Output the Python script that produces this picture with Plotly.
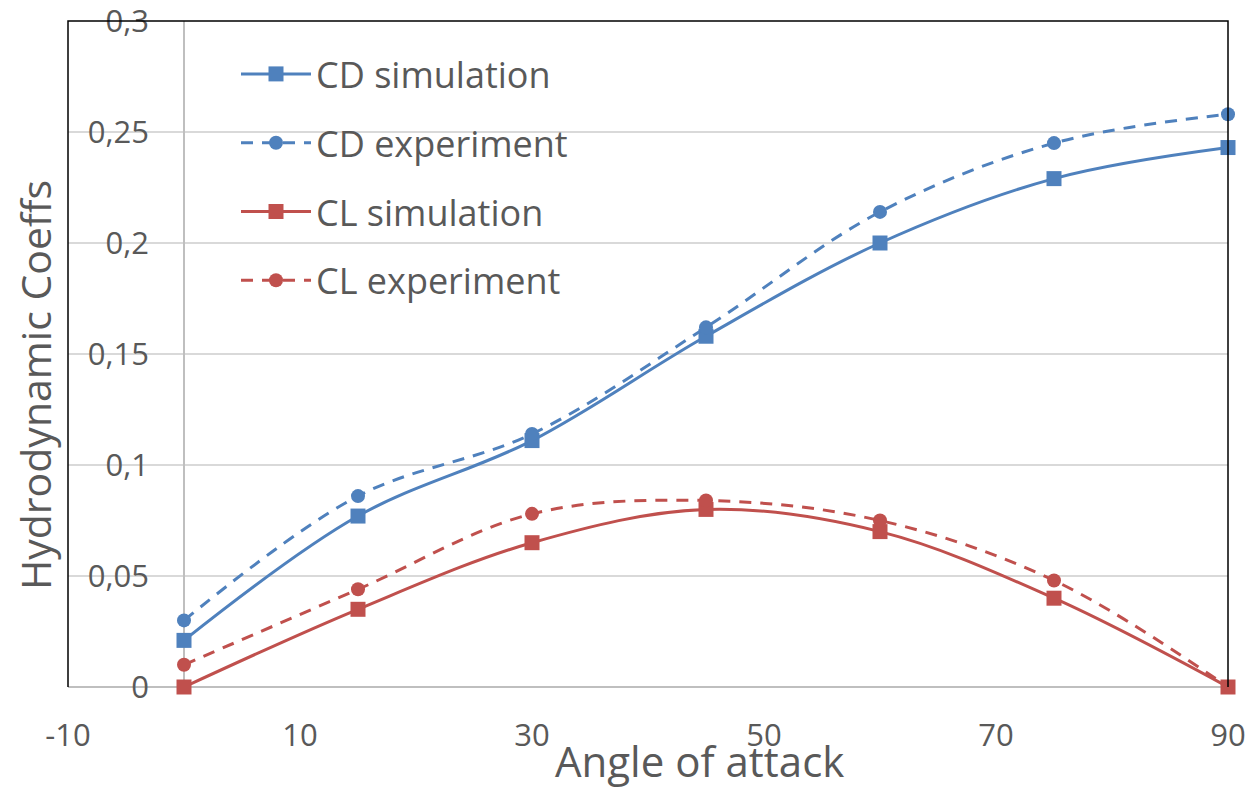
import plotly.graph_objects as go

angles = [0, 15, 30, 45, 60, 75, 90]
cd_simulation = [0.021, 0.077, 0.111, 0.158, 0.200, 0.229, 0.243]
cd_experiment = [0.030, 0.086, 0.114, 0.162, 0.214, 0.245, 0.258]
cl_simulation = [0.000, 0.035, 0.065, 0.080, 0.070, 0.040, 0.000]
cl_experiment = [0.010, 0.044, 0.078, 0.084, 0.075, 0.048, 0.000]

x_tickvals = [-10, 10, 30, 50, 70, 90]
x_ticktext = ["-10", "10", "30", "50", "70", "90"]
y_tickvals = [0, 0.05, 0.1, 0.15, 0.2, 0.25, 0.3]

BLUE = "#4F81BD"
RED = "#C0504D"
TEXT = "#595959"
FONT = "Open Sans"
DASH = "12px,9px"

series = [
    ("CD simulation", cd_simulation, BLUE, "solid", "square", 15),
    ("CD experiment", cd_experiment, BLUE, DASH, "circle", 14),
    ("CL simulation", cl_simulation, RED, "solid", "square", 15),
    ("CL experiment", cl_experiment, RED, DASH, "circle", 14),
]

fig = go.Figure()
for i, (name, vals, color, dash, sym, msize) in enumerate(series):
    fig.add_trace(go.Scatter(
        x=angles, y=vals, name=name, mode="lines+markers",
        line=dict(color=color, width=3, dash=dash, shape="spline", smoothing=1.0),
        marker=dict(symbol=sym, size=msize, color=color),
        legendgroup=f"g{i}", cliponaxis=False,
    ))

fig.update_layout(
    width=1255, height=792,
    margin=dict(l=68, r=27, t=21, b=105, autoexpand=False),
    paper_bgcolor="white", plot_bgcolor="white",
    separators=", ",
    font=dict(family=FONT, size=31, color=TEXT),
    showlegend=True,
    legend=dict(
        x=(236 - 68) / 1160, y=1 - 23 / 666, xanchor="left", yanchor="top",
        bgcolor="rgba(0,0,0,0)", borderwidth=0,
        font=dict(family=FONT, size=36, color=TEXT),
        tracegroupgap=19, itemwidth=70,
    ),
    xaxis=dict(
        range=[-10, 90], domain=[0, 1], automargin=False,
        tickvals=x_tickvals, ticktext=x_ticktext,
        showgrid=False, zeroline=True, zerolinecolor="#BFBFBF", zerolinewidth=2,
        showline=False, ticks="", ticklabelstandoff=27,
        tickfont=dict(family=FONT, size=31, color=TEXT),
    ),
    yaxis=dict(
        range=[0, 0.3], anchor="free", position=0.1, automargin=False,
        tickvals=y_tickvals, ticklabeloverflow="allow",
        showgrid=True, gridcolor="#D9D9D9", gridwidth=1.5,
        zeroline=True, zerolinecolor="#BFBFBF", zerolinewidth=2,
        showline=False, ticks="", ticklabelstandoff=35,
        tickfont=dict(family=FONT, size=31, color=TEXT),
    ),
    shapes=[dict(
        type="path", xref="paper", yref="paper",
        path="M0,0 L0,1 L1,1 L1,0",
        line=dict(color="black", width=1.5), layer="above",
    )],
    annotations=[
        dict(text="Angle of attack", xref="paper", yref="paper",
             x=(699 - 68) / 1160, y=(687 - 791) / 666, xanchor="center", yanchor="bottom",
             showarrow=False, font=dict(family=FONT, size=42, color=TEXT)),
        dict(text="Hydrodynamic Coeffs", xref="paper", yref="paper",
             x=(35 - 68) / 1160, y=(687 - 385) / 666, xanchor="center", yanchor="middle",
             textangle=-90, showarrow=False, font=dict(family=FONT, size=41, color=TEXT)),
    ],
)

fig.write_html("out.html", config={"displayModeBar": False},
               post_script="document.body.style.margin='0';")
